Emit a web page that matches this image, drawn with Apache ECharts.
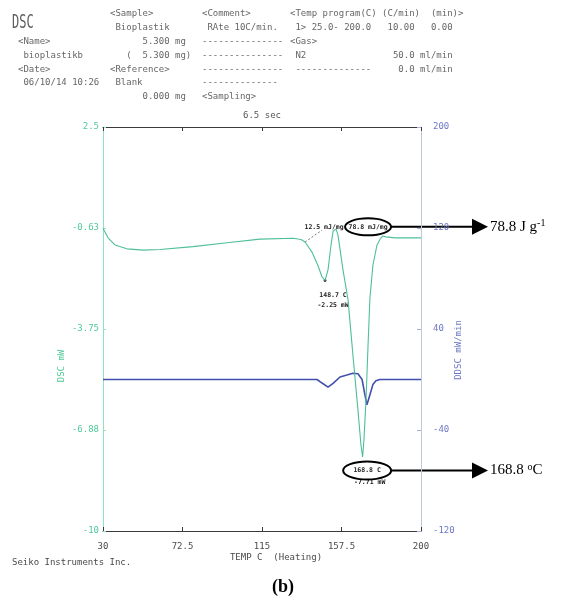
<!DOCTYPE html>
<html>
<head>
<meta charset="utf-8">
<script src="https://cdn.jsdelivr.net/npm/echarts@6/dist/echarts.min.js"></script>
<style>
  html, body { margin: 0; padding: 0; background: #ffffff; }
  #chart { width: 565px; height: 601px; }
</style>
</head>
<body>
<div id="chart"></div>
<script>
// Heat flow (DSC, mW) against temperature (°C)
const dscTemp = [30, 32.7, 36.4, 42.8, 51.4, 60.5, 78.1, 96.3, 113.9, 131.6, 135.9, 138, 141.7, 145, 147.1, 148.7,
  150.3, 151.9, 153, 154.6, 155.6, 158.3, 161, 163.6, 166.3, 167.9, 168.8, 169.5, 170.6, 171.7, 172.7, 174.3,
  176.5, 178.1, 179.7, 181.3, 186.1, 200];
const dscPower = [-0.63, -0.93, -1.15, -1.27, -1.31, -1.29, -1.20, -1.08, -0.97, -0.94, -0.98, -1.06, -1.37, -1.80, -2.14, -2.25,
  -1.92, -1.15, -0.72, -0.66, -0.84, -1.92, -2.85, -4.55, -6.26, -7.34, -7.71, -7.18, -5.95, -4.24, -2.79, -1.77,
  -1.15, -0.97, -0.87, -0.90, -0.93, -0.93];

// Derivative signal (DDSC, mW/min)
const ddscTemp = [30, 144.4, 147.1, 150.3, 153, 156.7, 160.4, 163.6, 166.3, 168.5, 170, 171.1, 172.7, 174.3, 175.9, 178, 200];
const ddscRate = [0, 0, -2.8, -6, -3, 2, 3.5, 5, 4.5, 0, -12, -20, -12, -4, -1, 0, 0];

// Axis ticks
const tempTicks = [30, 72.5, 115, 157.5, 200];
const dscTicks = [-10, -6.875, -3.75, -0.625, 2.5];
const dscTickLabels = ['-10', '-6.88', '-3.75', '-0.63', '2.5'];
const ddscTicks = [-120, -40, 40, 120, 200];

// Peaks and enthalpies
const minorPeak = { temp: 148.7, power: -2.25 };
const mainPeak = { temp: 168.8, power: -7.71 };
const minorEnthalpy = '12.5 mJ/mg';
const mainEnthalpy = '78.8 mJ/mg';
const mainEnthalpyJg = '78.8';
const mainPeakTempText = '168.8';

// Instrument report header
const headerName = ['<Name>', ' bioplastikb', '<Date>', ' 06/10/14 10:26'];
const headerSample = ['<Sample>', ' Bioplastik', '      5.300 mg', '   (  5.300 mg)', '<Reference>', ' Blank', '      0.000 mg'];
const headerComment = ['<Comment>', ' RAte 10C/min.', '---------------', '---------------', '---------------', '--------------', '<Sampling>'];
const headerProgram = ['<Temp program(C) (C/min)  (min)>', ' 1> 25.0- 200.0   10.00   0.00', '<Gas>',
  ' N2                50.0 ml/min', ' --------------     0.0 ml/min'];

const zip = (a, b) => a.map((v, i) => [v, b[i]]);
const monoFont = '"DejaVu Sans Mono", "Liberation Mono", monospace';
const labelMono = { fontFamily: monoFont, fontSize: 9 };

const chart = echarts.init(document.getElementById('chart'), null, { renderer: 'canvas' });

const option = {
  animation: false,
  backgroundColor: '#ffffff',
  grid: { left: 103, right: 144, top: 127, bottom: 70, containLabel: false },
  xAxis: [
    {
      type: 'value', position: 'bottom', min: 30, max: 200,
      axisLine: { show: true, onZero: false, lineStyle: { color: '#3a3a3a', width: 1 } },
      axisTick: { show: true, inside: true, length: 4, customValues: tempTicks, lineStyle: { color: '#3a3a3a' } },
      axisLabel: { show: true, customValues: tempTicks, margin: 11, color: '#4a4a4a', ...labelMono,
        formatter: v => String(v) },
      splitLine: { show: false }
    },
    {
      type: 'value', position: 'top', min: 30, max: 200,
      axisLine: { show: true, onZero: false, lineStyle: { color: '#3a3a3a', width: 1 } },
      axisTick: { show: true, inside: true, length: 4, customValues: tempTicks, lineStyle: { color: '#3a3a3a' } },
      axisLabel: { show: false },
      splitLine: { show: false }
    }
  ],
  yAxis: [
    {
      type: 'value', position: 'left', min: -10, max: 2.5,
      axisLine: { show: true, onZero: false, lineStyle: { color: '#92e0c2', width: 1 } },
      axisTick: { show: true, inside: true, length: 3, customValues: dscTicks, lineStyle: { color: '#92e0c2' } },
      axisLabel: { show: true, customValues: dscTicks, margin: 4, color: '#52c99a', ...labelMono,
        formatter: v => {
          let best = 0;
          dscTicks.forEach((t, i) => { if (Math.abs(t - v) < Math.abs(dscTicks[best] - v)) best = i; });
          return dscTickLabels[best];
        } },
      splitLine: { show: false }
    },
    {
      type: 'value', position: 'right', min: -120, max: 200,
      axisLine: { show: true, onZero: false, lineStyle: { color: '#bcc8dc', width: 1 } },
      axisTick: { show: true, inside: true, length: 4, customValues: ddscTicks, lineStyle: { color: '#a8b4cc' } },
      axisLabel: { show: true, customValues: ddscTicks, margin: 12, color: '#6c78c4', ...labelMono,
        formatter: v => String(v) },
      splitLine: { show: false }
    }
  ],
  series: [
    {
      name: 'DDSC', type: 'line', xAxisIndex: 0, yAxisIndex: 1,
      data: zip(ddscTemp, ddscRate),
      showSymbol: false, smooth: false,
      lineStyle: { color: '#4150ad', width: 1.6 },
      z: 2
    },
    {
      name: 'DSC', type: 'line', xAxisIndex: 0, yAxisIndex: 0,
      data: zip(dscTemp, dscPower),
      showSymbol: false, smooth: false,
      lineStyle: { color: '#4fbf98', width: 1.1 },
      z: 3
    }
  ]
};

chart.setOption(option);

// Annotations placed from the data scales
const px = (t, v) => chart.convertToPixel({ xAxisIndex: 0, yAxisIndex: 0 }, [t, v]);
const plotLeft = chart.convertToPixel({ xAxisIndex: 0 }, 30);
const plotRight = chart.convertToPixel({ xAxisIndex: 0 }, 200);
const plotTop = chart.convertToPixel({ yAxisIndex: 0 }, 2.5);
const plotBottom = chart.convertToPixel({ yAxisIndex: 0 }, -10);
const plotMidX = (plotLeft + plotRight) / 2;

const g = [];
const text = (x, y, s, style, extra) => g.push(Object.assign({
  type: 'text', x, y, silent: true,
  style: Object.assign({ text: s, fill: '#666666', font: '9px ' + monoFont, textAlign: 'left', textVerticalAlign: 'middle' }, style)
}, extra || {}));

// header block
const rowY = i => 14 + 13.8 * i;
text(12, 23, 'DSC', { font: '12px ' + monoFont, fill: '#5c5c5c' }, { scaleY: 1.6 });
headerName.forEach((s, i) => text(18, rowY(i + 2), s));
headerSample.forEach((s, i) => text(110, rowY(i), s));
headerComment.forEach((s, i) => text(202, rowY(i), s));
headerProgram.forEach((s, i) => text(290, rowY(i), s));
text(plotMidX, plotTop - 11, '6.5 sec', { textAlign: 'center', fill: '#555555' });

// axis names and footer
text(62, 366, 'DSC mW', { textAlign: 'center', fill: '#52c99a' }, { rotation: Math.PI / 2 });
text(459, 350, 'DDSC mW/min', { textAlign: 'center', fill: '#6c78c4' }, { rotation: Math.PI / 2 });
text(plotMidX + 14, plotBottom + 27, 'TEMP C  (Heating)', { textAlign: 'center', fill: '#4a4a4a' });
text(12, plotBottom + 32, 'Seiko Instruments Inc.', { fill: '#4a4a4a' });
text(plotMidX + 21, plotBottom + 56, '(b)', { textAlign: 'center', fill: '#000000',
  font: 'bold 18px "Liberation Serif", "Times New Roman", serif' });

// minor peak
const p1 = px(minorPeak.temp, minorPeak.power);
g.push({ type: 'circle', silent: true, shape: { cx: p1[0], cy: p1[1], r: 1.4 }, style: { fill: '#222' } });
const smallFont = 'bold 6.5px ' + monoFont;
text(p1[0] + 8, p1[1] + 15, minorPeak.temp.toFixed(1) + ' C', { textAlign: 'center', fill: '#222', font: smallFont });
text(p1[0] + 8, p1[1] + 25, minorPeak.power.toFixed(2) + ' mW', { textAlign: 'center', fill: '#222', font: smallFont });

// partial-area baseline and enthalpy labels
const b0 = px(138, -1.06), b1 = px(147.1, -0.69);
g.push({ type: 'line', silent: true, shape: { x1: b0[0], y1: b0[1], x2: b1[0], y2: b1[1] },
  style: { stroke: '#777', lineWidth: 1, lineDash: [2, 2] } });
const e1 = px(148.2, -0.59);
text(e1[0], e1[1], minorEnthalpy, { textAlign: 'center', fill: '#222', font: smallFont });
const e2 = px(171.7, -0.59);
text(e2[0], e2[1], mainEnthalpy, { textAlign: 'center', fill: '#222', font: smallFont });

// main peak labels
const p2 = px(mainPeak.temp, mainPeak.power);
const ring2 = [p2[0] + 4.5, p2[1] + 13.5];
text(ring2[0], ring2[1], mainPeak.temp.toFixed(1) + ' C', { textAlign: 'center', fill: '#222', font: smallFont });
text(p2[0] + 7, p2[1] + 25.5, mainPeak.power.toFixed(2) + ' mW', { textAlign: 'center', fill: '#222', font: smallFont });

// callouts
const tipX = plotRight + 67;
const callout = (cx, cy, rx, ry, rich) => {
  g.push({ type: 'ellipse', silent: true, shape: { cx, cy, rx, ry }, style: { fill: 'none', stroke: '#000', lineWidth: 2 } });
  g.push({ type: 'line', silent: true, shape: { x1: cx + rx, y1: cy, x2: tipX - 14, y2: cy }, style: { stroke: '#000', lineWidth: 2 } });
  g.push({ type: 'polygon', silent: true, shape: { points: [[tipX - 16, cy - 8], [tipX, cy], [tipX - 16, cy + 8]] }, style: { fill: '#000' } });
  g.push({ type: 'text', silent: true, x: tipX + 2, y: cy, style: rich });
};
const serif = '"Liberation Serif", "Times New Roman", serif';
callout(e2[0], e2[1], 23, 8.5, {
  text: '{m|' + mainEnthalpyJg + ' J g}{s|-1}', textVerticalAlign: 'middle',
  rich: { m: { font: '15px ' + serif, fill: '#000' }, s: { font: '10px ' + serif, fill: '#000', verticalAlign: 'top', padding: [0, 0, 7, 0] } }
});
callout(ring2[0], ring2[1], 24, 9, {
  text: '{m|' + mainPeakTempText + ' }{s|o}{m|C}', textVerticalAlign: 'middle',
  rich: { m: { font: '15px ' + serif, fill: '#000' }, s: { font: '10px ' + serif, fill: '#000', padding: [0, 0, 7, 0] } }
});

chart.setOption({ graphic: { elements: g } });
</script>
</body>
</html>
